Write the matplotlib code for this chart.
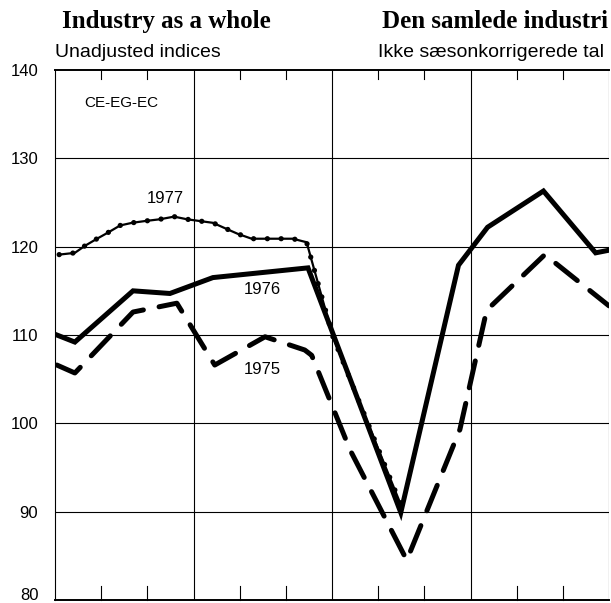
import matplotlib
matplotlib.use('Agg')
import matplotlib.pyplot as plt
import matplotlib.transforms as mtransforms
import numpy as np

# months on x (0 = left edge of chart, 12 = right edge), index values on y
x1975 = [0.04, 0.43, 1.69, 2.64, 3.46, 4.55, 5.41, 5.56, 6.39, 7.62, 8.77, 9.35, 10.61, 12.0]
y1975 = [106.6, 105.7, 112.6, 113.6, 106.6, 109.8, 108.3, 107.7, 97.0, 84.5, 99.3, 112.8, 119.1, 113.3]

x1976 = [0.04, 0.43, 1.69, 2.49, 3.42, 5.48, 7.49, 8.74, 9.37, 10.58, 11.71, 12.0]
y1976 = [110.0, 109.2, 115.0, 114.7, 116.5, 117.6, 89.9, 117.9, 122.2, 126.3, 119.3, 119.6]

x1977 = [0.09, 0.43, 0.65, 0.91, 1.15, 1.41, 1.67, 1.95, 2.27, 2.58, 2.86, 3.14, 3.42,
         3.72, 3.96, 4.26, 4.55, 4.83, 5.15, 5.45, 6.02, 7.49]
y1977 = [119.1, 119.3, 120.1, 120.9, 121.6, 122.4, 122.7, 122.9, 123.1, 123.4, 123.1, 122.9, 122.7,
         122.0, 121.45, 120.9, 120.9, 120.9, 120.9, 120.5, 109.8, 90.8]

yticks = [80, 90, 100, 110, 120, 130, 140]
quarters = [3, 6, 9, 12]
months = [1, 2, 4, 5, 7, 8, 10, 11]

W, H = 611, 603
fig = plt.figure(figsize=(W/100, H/100), dpi=100)
ax = fig.add_axes([55/W, 3/H, (609-55)/W, (600-70)/H])
ax.set_xlim(0, 12)
ax.set_ylim(80, 140)

for q in quarters:
    ax.axvline(q, color='black', lw=0.8, zorder=1)
for v in yticks[1:-1]:
    ax.axhline(v, color='black', lw=0.8, zorder=1)

ax.plot(x1976, y1976, color='black', lw=3.6, solid_joinstyle='miter', zorder=3)
ax.plot(x1975, y1975, color='black', lw=3.6, dashes=(5.5, 3.2), dash_capstyle='round', zorder=3)
ax.plot(x1977, y1977, color='black', lw=1.6, zorder=4)
ax.plot(x1977, y1977, color='black', lw=3.8, dashes=(0.01, 2.6), dash_capstyle='round', zorder=4)

ax.text(2.38, 125.5, '1977', ha='center', va='center', fontsize=12, family='Liberation Sans')
ax.text(4.48, 115.2, '1976', ha='center', va='center', fontsize=12, family='Liberation Sans')
ax.text(4.48, 106.1, '1975', ha='center', va='center', fontsize=12, family='Liberation Sans')
ax.text(1.43, 136.3, 'CE-EG-EC', ha='center', va='center', fontsize=11, family='Liberation Sans')

ax.set_xticks([])
ax.set_yticks(yticks)
ax.set_yticklabels([str(v) for v in yticks], fontsize=12, family='Liberation Sans')
ax.tick_params(axis='y', length=0, pad=12)
# bottom label sits on the page edge, lift it a little so it stays visible
lab80 = ax.get_yticklabels()[0]
lab80.set_transform(lab80.get_transform() + mtransforms.ScaledTranslation(0, 6/100, fig.dpi_scale_trans))

ax.spines['right'].set_visible(False)
ax.spines['top'].set_linewidth(1.4)
ax.spines['left'].set_linewidth(0.8)
ax.spines['bottom'].set_linewidth(1.4)

# small monthly ticks, inward, top and bottom
for m in months:
    ax.plot([m, m], [140, 140 - 9/8.83], color='black', lw=0.8, clip_on=False)
    ax.plot([m, m], [80, 80 + 14/8.83], color='black', lw=0.8, clip_on=False)

fig.text(62/W, 1 - 28/H, 'Industry as a whole', fontsize=18, weight='bold',
         family='Liberation Serif', va='baseline')
fig.text(382/W, 1 - 28/H, 'Den samlede industri', fontsize=18, weight='bold',
         family='Liberation Serif', va='baseline')
fig.text(55/W, 1 - 57/H, 'Unadjusted indices', fontsize=14, family='Liberation Sans', va='baseline')
fig.text(378/W, 1 - 57/H, 'Ikke sæsonkorrigerede tal', fontsize=14, family='Liberation Sans', va='baseline')

fig.savefig('out.png', dpi=100)
